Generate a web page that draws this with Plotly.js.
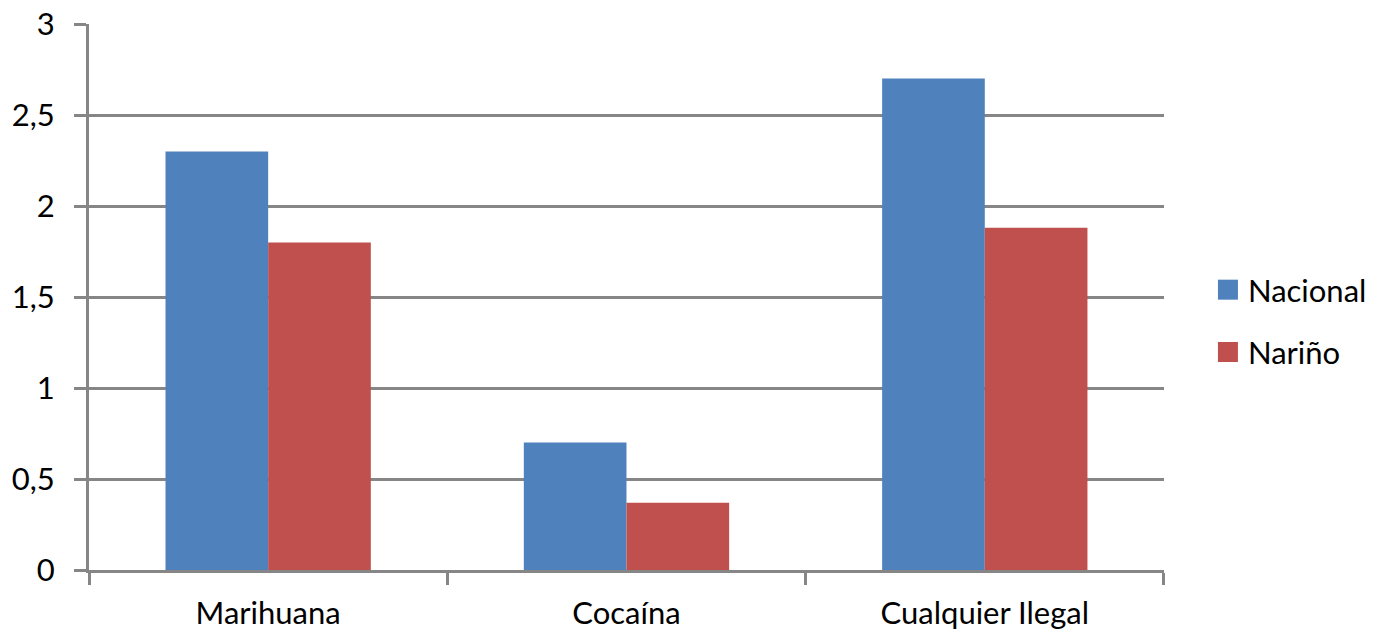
<!DOCTYPE html>
<html><head><meta charset="utf-8">
<script src="https://cdn.plot.ly/plotly-3.0.1.min.js"></script>
<style>html,body{margin:0;padding:0;background:#fff;}#chart{width:1374px;height:633px;}</style>
</head><body><div id="chart"></div>
<script>
const categories = ["Marihuana", "Cocaína", "Cualquier Ilegal"];
const nacional = [2.3, 0.7, 2.7];
const narino = [1.8, 0.37, 1.88];
const seriesNames = ["Nacional", "Nariño"];
const yTicks = [0, 0.5, 1, 1.5, 2, 2.5, 3];

const gray = "#868686";
const font = {family: "Lato, 'Open Sans', sans-serif", size: 31, color: "#000"};

const data = [
  {type: "bar", name: seriesNames[0], x: categories, y: nacional, marker: {color: "#4F81BD"}, legendgroup: "a"},
  {type: "bar", name: seriesNames[1], x: categories, y: narino, marker: {color: "#C0504D"}, legendgroup: "b"}
];
const layout = {
  width: 1374, height: 633,
  margin: {l: 89, r: 10, t: 24, b: 63, autoexpand: false},
  paper_bgcolor: "#fff", plot_bgcolor: "#fff",
  separators: ",.",
  font: font,
  barmode: "group", bargap: 0.427, bargroupgap: 0,
  showlegend: true,
  legend: {x: 0.8776, y: 0.456, xanchor: "left", yanchor: "middle", font: font, tracegroupgap: 19, traceorder: "grouped", itemwidth: 30},
  xaxis: {domain: [0, 0.8431], type: "category", tickson: "boundaries", ticks: "outside", ticklen: 12, tickwidth: 3, tickcolor: gray,
          showline: true, linecolor: gray, linewidth: 3, showgrid: false, ticklabelstandoff: 14, tickfont: font},
  yaxis: {range: [0, 3], tickvals: yTicks, ticks: "outside", ticklen: 12, tickwidth: 3, tickcolor: gray,
          showline: true, linecolor: gray, linewidth: 3, showgrid: true, gridcolor: gray, gridwidth: 3,
          zeroline: false, ticklabelstandoff: 13, tickfont: font}
};
function enlargeLegend(){
  document.querySelectorAll('#chart .legendpoints path').forEach(p => {
    p.setAttribute('d', 'M10,10H-10V-10H10Z');
  });
}
Plotly.newPlot("chart", data, layout, {displayModeBar: false}).then(gd => {
  enlargeLegend();
  gd.on('plotly_afterplot', enlargeLegend);
});
</script></body></html>
